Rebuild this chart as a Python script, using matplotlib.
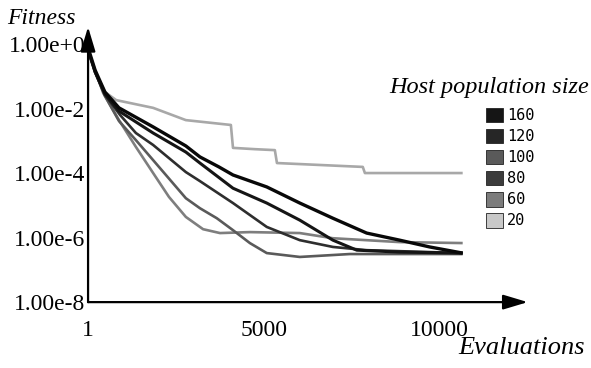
import matplotlib.pyplot as plt
from matplotlib.patches import Patch
import numpy as np

# evaluations and log10(fitness)
sizes = ['160', '120', '100', '80', '60', '20']

evals_160 = [1, 200, 480, 880, 1850, 2780, 3180, 3720, 4120, 5080, 6020, 6960, 7920, 8860, 9710, 10650]
logfit_160 = [-0.12, -0.81, -1.49, -1.98, -2.57, -3.16, -3.50, -3.81, -4.06, -4.43, -4.93, -5.40, -5.86, -6.08, -6.29, -6.48]

evals_120 = [1, 200, 480, 880, 1850, 2780, 3180, 4120, 5080, 6020, 6960, 7640, 8860, 10650]
logfit_120 = [-0.19, -0.87, -1.55, -2.08, -2.76, -3.35, -3.69, -4.47, -4.93, -5.46, -6.08, -6.39, -6.45, -6.48]

evals_100 = [1, 200, 480, 910, 1360, 1850, 2780, 3180, 4120, 5080, 6020, 6960, 7920, 10650]
logfit_100 = [-0.19, -0.87, -1.58, -2.20, -2.76, -3.13, -3.97, -4.25, -4.93, -5.67, -6.08, -6.29, -6.39, -6.48]

evals_80 = [1, 200, 480, 880, 1360, 1850, 2780, 3180, 3660, 4120, 4600, 5080, 6020, 7440, 10650]
logfit_80 = [-0.19, -0.87, -1.61, -2.39, -2.98, -3.60, -4.78, -5.09, -5.40, -5.77, -6.17, -6.48, -6.60, -6.51, -6.51]

evals_60 = [1, 200, 430, 880, 1360, 1850, 2300, 2780, 3270, 3750, 4600, 6020, 6960, 8860, 10650]
logfit_60 = [-0.19, -0.81, -1.52, -2.36, -3.19, -4.00, -4.74, -5.36, -5.74, -5.86, -5.83, -5.86, -6.02, -6.14, -6.17]

evals_20 = [1, 200, 480, 800, 1850, 2780, 4060, 4120, 4740, 5310, 5370, 6590, 7810, 7870, 10650]
logfit_20 = [-0.19, -0.87, -1.49, -1.74, -1.98, -2.36, -2.51, -3.22, -3.26, -3.29, -3.69, -3.75, -3.81, -4.00, -4.00]

xticks = [1, 5000, 10000]
yticks = [1e0, 1e-2, 1e-4, 1e-6, 1e-8]
ytick_labels = ['1.00e+0', '1.00e-2', '1.00e-4', '1.00e-6', '1.00e-8']

series = [
    (evals_160, logfit_160, '#080808', 2.4),
    (evals_120, logfit_120, '#151515', 2.2),
    (evals_100, logfit_100, '#2e2e2e', 1.9),
    (evals_80, logfit_80, '#5a5a5a', 1.9),
    (evals_60, logfit_60, '#7e7e7e', 1.9),
    (evals_20, logfit_20, '#a8a8a8', 1.9),
]
legend_colors = ['#151515', '#262626', '#5a5a5a', '#3c3c3c', '#7c7c7c', '#c8c8c8']

serif = 'Liberation Serif'

fig = plt.figure(figsize=(5.91, 3.68), dpi=100)
ax = fig.add_axes([0.149, 0.179, 0.744, 0.748])

for ev, lf, col, lw in series[::-1]:
    ax.plot(ev, 10.0 ** np.array(lf), color=col, lw=lw,
            solid_joinstyle='round', solid_capstyle='butt')

ax.set_yscale('log')
ax.set_xlim(0, 12500)
ax.set_ylim(1e-8, 10 ** 0.53)
ax.minorticks_off()
ax.set_yticks(yticks)
ax.set_yticklabels(ytick_labels)
ax.set_xticks(xticks)
ax.set_xticklabels([str(v) for v in xticks])
ax.tick_params(length=0, labelsize=17)
ax.tick_params(axis='y', pad=2)
ax.tick_params(axis='x', pad=13)
for lbl in ax.get_xticklabels() + ax.get_yticklabels():
    lbl.set_family(serif)

for s in ax.spines.values():
    s.set_visible(False)

arrow = dict(arrowstyle='-|>,head_length=1.0,head_width=0.3', lw=1.6,
             color='black', mutation_scale=15, shrinkA=0, shrinkB=0)
ax.annotate('', xy=(1, 0), xytext=(0, 0), xycoords='axes fraction', arrowprops=arrow)
ax.annotate('', xy=(0, 1), xytext=(0, 0), xycoords='axes fraction', arrowprops=arrow)

fig.text(0.012, 0.978, 'Fitness', family=serif, style='italic', fontsize=17,
         va='top', ha='left')
fig.text(0.99, 0.025, 'Evaluations', family=serif, style='italic', fontsize=19,
         va='bottom', ha='right')
fig.text(0.997, 0.762, 'Host population size', family=serif, style='italic',
         fontsize=17.5, va='center', ha='right')

handles = [Patch(facecolor=c, edgecolor='#222222', lw=0.6) for c in legend_colors]
fig.legend(handles, sizes, loc='upper left', bbox_to_anchor=(0.809, 0.728),
           frameon=False, borderpad=0, handlelength=1.1, handleheight=1.1,
           labelspacing=0.36, handletextpad=0.3,
           prop={'family': 'DejaVu Sans Mono', 'size': 11})

fig.savefig('out.png', dpi=100)
